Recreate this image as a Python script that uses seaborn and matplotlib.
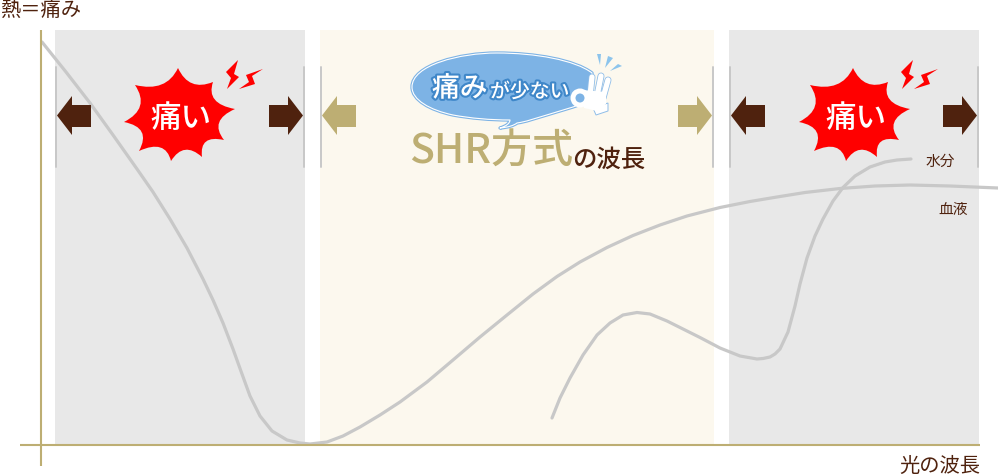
import matplotlib
matplotlib.use('Agg')
import matplotlib.pyplot as plt
import pandas as pd
import seaborn as sns
from matplotlib.patches import Polygon, Rectangle, PathPatch, Circle
from matplotlib.path import Path
import matplotlib.patheffects as pe

sns.set_theme(style='white')
plt.rcParams['font.family'] = ['Noto Sans CJK JP', 'DejaVu Sans']

# curves, in pixels
blood_x = [42, 66, 90, 113, 137, 153, 170, 187, 203, 213, 223, 233, 242, 250, 260, 272, 287, 300, 310, 327,
           343, 360, 380, 400, 427, 453, 480, 507, 533, 557, 580, 607, 633, 660, 687, 720, 750, 777, 805,
           840, 875, 910, 950, 998]
blood_y = [42, 72, 103, 135, 169, 192, 219, 248, 279, 300, 323, 349, 374, 396, 416, 431, 440, 443, 444, 442,
           436, 427, 415, 402, 382, 360, 337, 315, 294, 276.5, 262, 247.5, 235.5, 225, 216, 207.5, 201.5, 197,
           192.5, 188.5, 186, 185, 186, 188]
water_x = [552, 560, 570, 583, 597, 610, 623, 637, 650, 667, 687, 700, 720, 740, 757, 763, 770, 775, 780, 788,
           795, 800, 807, 815, 823, 833, 843, 855, 870, 885, 897, 911]
water_y = [418, 398, 378, 355, 335, 323, 315, 312.5, 314, 321, 331, 337.5, 348, 356, 359, 358.5, 357, 354, 349,
           332, 306, 284, 258, 236, 219, 201, 187.5, 176, 167, 162, 160, 159]

TAN = '#BDAE73'
BROWN = '#4F220E'
GRAY = '#C8C8C8'
BLUE = '#7DB3E5'
RED = '#FF0000'

fig = plt.figure(figsize=(9.98, 4.75), dpi=100)
ax = fig.add_axes([0, 0, 1, 1])
ax.set_xlim(0, 998)
ax.set_ylim(475, 0)
ax.axis('off')

# bands
ax.add_patch(Rectangle((55, 30), 250, 415, color='#E8E8E8', lw=0, zorder=1))
ax.add_patch(Rectangle((320, 30), 394, 415, color='#FCF8EE', lw=0, zorder=1))
ax.add_patch(Rectangle((729, 30), 250, 415, color='#E8E8E8', lw=0, zorder=1))

for x in [56, 304, 321, 713, 730, 978]:
    ax.plot([x, x], [67, 167], color=GRAY, lw=1.4, zorder=2)

# curves
curves = pd.DataFrame({'x': blood_x + water_x, 'y': blood_y + water_y,
                       'name': ['blood'] * len(blood_x) + ['water'] * len(water_x)})
sns.lineplot(data=curves, x='x', y='y', units='name', estimator=None, sort=False, color=GRAY, lw=2.3,
             ax=ax, zorder=3, solid_joinstyle='round', legend=False)
ax.set_xlim(0, 998)
ax.set_ylim(475, 0)

# axes
ax.plot([41, 41], [30, 466], color=TAN, lw=1.5, zorder=4, solid_capstyle='butt')
ax.plot([20, 980], [445, 445], color=TAN, lw=1.5, zorder=4, solid_capstyle='butt')


def arrow(x0, direction, color):
    # x0 is the tip, direction +1 points left to right
    pts = [(x0, 115.5), (x0 - 15 * direction, 96), (x0 - 15 * direction, 105), (x0 - 34 * direction, 105),
           (x0 - 34 * direction, 127), (x0 - 15 * direction, 127), (x0 - 15 * direction, 135)]
    ax.add_patch(Polygon(pts, closed=True, color=color, lw=0, zorder=5))


arrow(57, -1, BROWN)
arrow(303, 1, BROWN)
arrow(322, -1, TAN)
arrow(712, 1, TAN)
arrow(731, -1, BROWN)
arrow(977, 1, BROWN)


def burst(dx):
    tips = [(178, 68), (213, 82), (235, 109), (224, 140), (202, 157), (171, 161), (139, 151), (124, 122), (135, 85)]
    verts = [(tips[0][0] + dx, tips[0][1])]
    codes = [Path.MOVETO]
    cx, cy = 180, 115
    for i in range(len(tips)):
        a = tips[i]
        b = tips[(i + 1) % len(tips)]
        ctrl = (cx + ((a[0] + b[0]) / 2 - cx) * 0.58 + dx, cy + ((a[1] + b[1]) / 2 - cy) * 0.58)
        verts += [ctrl, (b[0] + dx, b[1])]
        codes += [Path.CURVE3, Path.CURVE3]
    ax.add_patch(PathPatch(Path(verts, codes), fc=RED, ec='none', zorder=6))
    bolt1 = [(238, 60), (234, 74), (239, 77), (227, 89), (231, 78), (226, 72)]
    bolt2 = [(263, 69), (252, 76), (255, 84), (239, 89), (249, 82), (246, 75)]
    for b in (bolt1, bolt2):
        ax.add_patch(Polygon([(p[0] + dx, p[1]) for p in b], closed=True, fc=RED, ec='none', zorder=6))
    ax.text(181 + dx, 118, '痛い', color='white', fontsize=22, ha='center', va='center',
            fontweight='medium', zorder=7)


burst(0)
burst(675)

# speech bubble
bubble_v = [(412, 87), (412, 65), (460, 53), (497, 53), (535, 53), (575, 60), (592, 73),
            (592, 100), (573, 107), (550, 114), (530, 120), (524, 122), (517, 123),
            (512, 127), (500, 128), (510, 125), (510, 120), (480, 120), (453, 115),
            (430, 110), (412, 100), (412, 87)]
bubble_c = [Path.MOVETO, Path.CURVE4, Path.CURVE4, Path.CURVE4, Path.CURVE4, Path.CURVE4, Path.CURVE4,
            Path.LINETO, Path.LINETO, Path.CURVE3, Path.CURVE3, Path.CURVE3, Path.CURVE3,
            Path.CURVE3, Path.CURVE3, Path.CURVE3, Path.CURVE3, Path.CURVE3, Path.CURVE3,
            Path.CURVE4, Path.CURVE4, Path.CURVE4]
ax.add_patch(PathPatch(Path(bubble_v, bubble_c), fc=BLUE, ec='white', lw=0.8, zorder=6, joinstyle='round',
                       path_effects=[pe.withStroke(linewidth=2.4, foreground=BLUE)]))

# OK hand
hand_edge = [pe.withStroke(linewidth=5.0, foreground='#8FBDE8')]
for f in [[(590, 96), (592, 77)], [(597, 96), (601, 76)], [(603, 98), (608, 80)]]:
    ax.plot([f[0][0], f[1][0]], [f[0][1], f[1][1]], color='white', lw=3.8, solid_capstyle='round', zorder=7,
            path_effects=hand_edge)
ax.add_patch(Polygon([(593, 108), (608, 103), (608, 111), (596, 115)], closed=True, fc='white', ec='#8FBDE8',
                     lw=0.7, zorder=7))
ax.add_patch(Polygon([(582, 90), (606, 92), (606, 104), (597, 111), (584, 108)], closed=True, fc='white',
                     ec='none', zorder=8))
ax.add_patch(Circle((580, 98), 9.5, fc='white', ec='none', zorder=8))
ax.add_patch(Circle((580, 98), 4.5, fc=BLUE, ec='none', zorder=9))
for ray in [[(597, 54), (601, 54), (600, 65)], [(608, 56), (613, 58), (605, 68)], [(618, 64), (622, 66), (610, 71)]]:
    ax.add_patch(Polygon(ray, closed=True, fc='#8CC4EC', ec='none', zorder=7))

stroke = [pe.withStroke(linewidth=3, foreground='#3F87C9')]
ax.text(432, 88, '痛み', color='white', fontsize=20, ha='left', va='center', fontweight='medium',
        path_effects=stroke, zorder=10)
ax.text(490, 92, 'が少ない', color='white', fontsize=14.3, ha='left', va='center', fontweight='medium',
        path_effects=stroke, zorder=10)

# titles and labels
ax.text(409, 152, 'SHR方式', color=TAN, fontsize=29.5, ha='left', va='center', fontweight='medium', zorder=7)
ax.text(572, 160, 'の波長', color=BROWN, fontsize=17.6, ha='left', va='center', fontweight='medium', zorder=7)
ax.text(0, 11, '熱＝痛み', color=BROWN, fontsize=14.6, ha='left', va='center', zorder=7)
ax.text(980, 466, '光の波長', color=BROWN, fontsize=14.6, ha='right', va='center', zorder=7)
ax.text(940, 162, '水分', color=BROWN, fontsize=10.6, ha='center', va='center', zorder=7)
ax.text(953, 210, '血液', color=BROWN, fontsize=10.6, ha='center', va='center', zorder=7)

fig.savefig('out.png', dpi=100)
plt.close(fig)
